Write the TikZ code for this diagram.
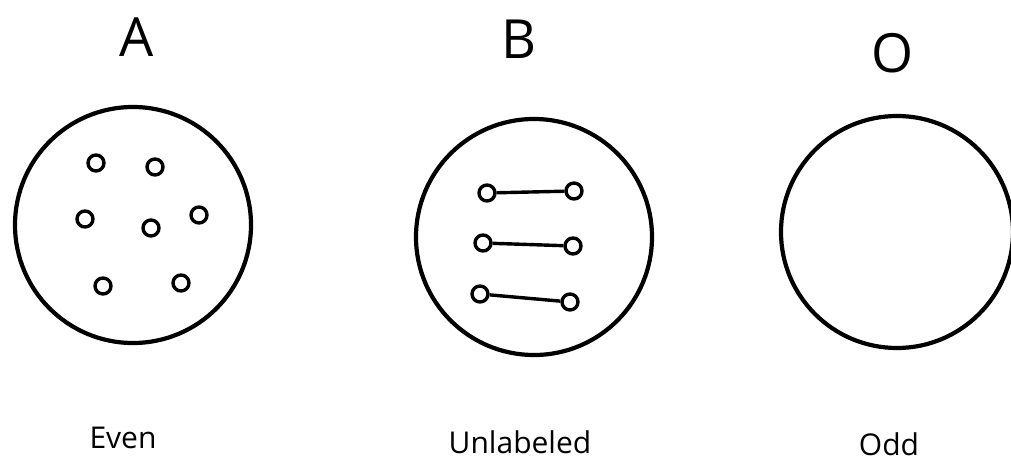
\documentclass[tikz,border=0pt]{standalone}
\usepackage{fontspec}
\setmainfont{Open Sans}
\begin{document}
\begin{tikzpicture}[x=1pt,y=-1pt,
  big/.style={draw=black,line width=4.2pt,circle,minimum size=236pt,inner sep=0pt},
  dot/.style={draw=black,line width=3.4pt,circle,minimum size=16pt,inner sep=0pt},
  link/.style={draw=black,line width=3.4pt},
  head/.style={font=\fontsize{54}{60}\selectfont,anchor=base,inner sep=0pt},
  foot/.style={font=\fontsize{30}{34}\selectfont,anchor=base,inner sep=0pt}]
\useasboundingbox (0,0) rectangle (1011,462);
\clip (0,0) rectangle (1011,462);
% headings
\node[head] (tA) at (137,57) {A};
\node[head] (tB) at (519,59) {B};
\node[head] (tO) at (893,73) {O};
% big circles
\node[big] (cA) at (133,225) {};
\node[big] (cB) at (534,237) {};
\node[big,minimum size=232pt] (cO) at (897,232) {};
% dots in A
\node[dot] (a1) at (96,163) {};
\node[dot] (a2) at (155,167) {};
\node[dot] (a3) at (85,219) {};
\node[dot] (a4) at (151,228) {};
\node[dot] (a5) at (199,215) {};
\node[dot] (a6) at (103,286) {};
\node[dot] (a7) at (181,283) {};
% pairs in B
\node[dot] (b1) at (487,193) {};
\node[dot] (b2) at (574,191) {};
\node[dot] (b3) at (483,243) {};
\node[dot] (b4) at (573,246) {};
\node[dot] (b5) at (480,294) {};
\node[dot] (b6) at (570,302) {};
\draw[link] (b1) -- (b2);
\draw[link] (b3) -- (b4);
\draw[link] (b5) -- (b6);
% footers
\node[foot] (fE) at (123,448) {Even};
\node[foot] (fU) at (520,453) {Unlabeled};
\node[foot] (fO) at (889,455) {Odd};
\end{tikzpicture}
\end{document}
